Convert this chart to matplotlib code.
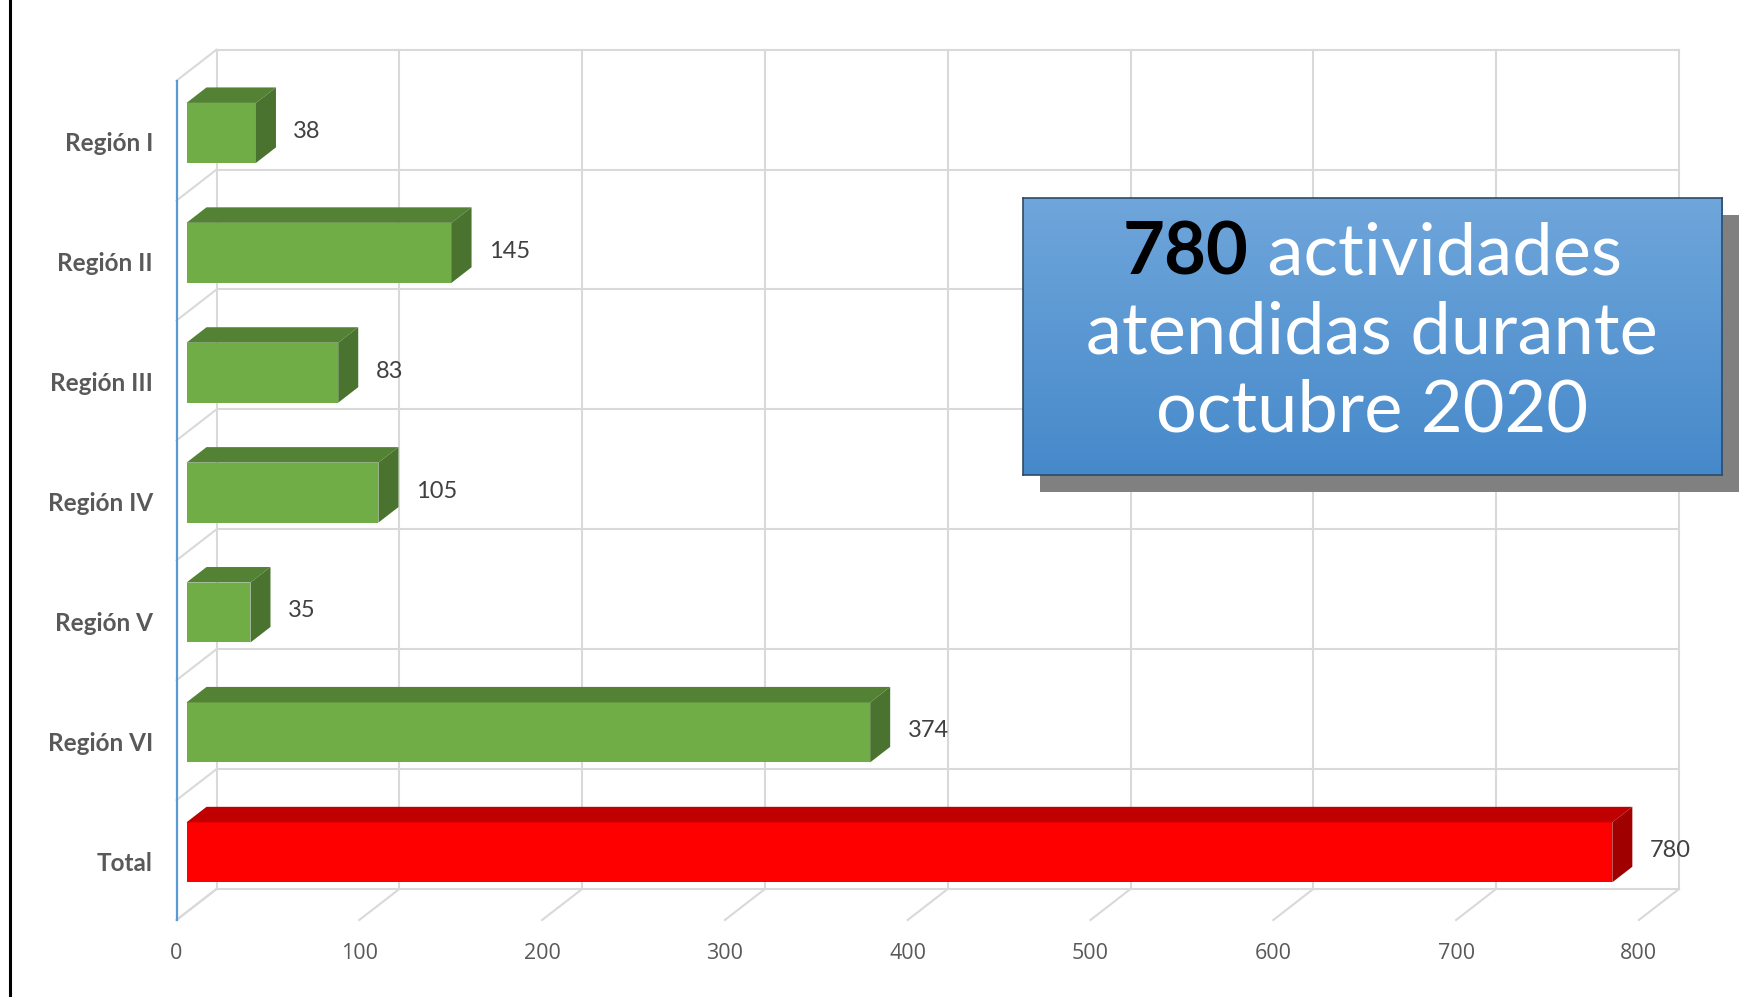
import matplotlib
matplotlib.use("Agg")
import matplotlib.pyplot as plt
from matplotlib.patches import Polygon, Rectangle
import numpy as np

# ---------------- data ----------------
categories = ["Región I", "Región II", "Región III", "Región IV", "Región V", "Región VI", "Total"]
values = [38, 145, 83, 105, 35, 374, 780]
x_ticks = [0, 100, 200, 300, 400, 500, 600, 700, 800]
box_number = "780"
box_line1_rest = " actividades"
box_line2 = "atendidas durante"
box_line3 = "octubre 2020"

# ---------------- styles ----------------
W, H = 1741, 997
X0_PX, PX_PER_UNIT = 176.5, 1.828
Y0_PX, PX_PER_CAT = 920.0, 119.9
DX = 40 / PX_PER_UNIT          # depth offset in value units
DY = 31 / PX_PER_CAT           # depth offset in category units
D0, D1 = 0.25, 0.75            # bar depth range
HALF = 0.25                    # half bar height (category units)

green = ("#70AD47", "#548235", "#4A732F")
red = ("#FF0000", "#C00000", "#A00000")
grid_c = "#D9D9D9"
txt_c = "#595959"

fig = plt.figure(figsize=(W / 100, H / 100), dpi=100)
ax = fig.add_axes([0, 0, 1, 1])
ax.set_xlim(-X0_PX / PX_PER_UNIT, (W - X0_PX) / PX_PER_UNIT)
ax.set_ylim(-(H - Y0_PX) / PX_PER_CAT, Y0_PX / PX_PER_CAT)
ax.axis("off")

n = len(categories)
vmax = x_ticks[-1]

# back wall grid
for v in x_ticks:
    ax.plot([v + DX, v + DX], [DY, n + DY], color=grid_c, lw=1.5, zorder=1)
for k in range(n + 1):
    ax.plot([DX, vmax + DX], [k + DY, k + DY], color=grid_c, lw=1.5, zorder=1)
# floor diagonals
for v in x_ticks:
    ax.plot([v, v + DX], [0, DY], color=grid_c, lw=1.5, zorder=1)
# left wall diagonals
for k in range(n + 1):
    ax.plot([0, DX], [k, k + DY], color=grid_c, lw=1.5, zorder=1)

# bars
for i, (cat, v) in enumerate(zip(categories, values)):
    c = n - i - 0.5
    cols = red if cat == "Total" else green
    front, top, side = cols[0], cols[1], cols[2]
    yb, yt = c - HALF, c + HALF
    def P(x, y, d):
        return (x + d * DX, y + d * DY)
    ax.add_patch(Polygon([P(0, yb, D0), P(v, yb, D0), P(v, yt, D0), P(0, yt, D0)],
                         closed=True, fc=front, ec="none", zorder=3))
    ax.add_patch(Polygon([P(0, yt, D0), P(v, yt, D0), P(v, yt, D1), P(0, yt, D1)],
                         closed=True, fc=top, ec="none", zorder=3))
    ax.add_patch(Polygon([P(v, yb, D0), P(v, yb, D1), P(v, yt, D1), P(v, yt, D0)],
                         closed=True, fc=side, ec="none", zorder=3))
    ax.text(v + D1 * DX + 9.5, c + 0.3 * DY, str(v), ha="left", va="center",
            fontsize=17, color="#404040", family="Lato", zorder=4)
    ax.text(-12.9, c - 0.025, cat, ha="right", va="center", fontsize=17.5,
            fontweight="bold", color=txt_c, family="Lato", zorder=4)

# axis line
ax.plot([0, 0], [0, n], color="#5B9BD5", lw=1.6, zorder=5)

# x tick labels
for v in x_ticks:
    ax.text(v, -33 / PX_PER_CAT, str(v), ha="center", va="center",
            fontsize=15.5, color=txt_c, family="Open Sans", zorder=4)

# left black border line
fig.add_artist(plt.Line2D([10 / W, 10 / W], [0, 1], color="black", lw=2.2,
                          transform=fig.transFigure))

# ---------------- text box ----------------
bx0, bx1, by0, by1 = 1022.6, 1722.0, 197.6, 475.0   # pixel coords from top
sh = 17
def fx(px): return px / W
def fy(py): return 1 - py / H

fig.add_artist(Rectangle((fx(bx0 + sh), fy(by1 + sh)), (bx1 - bx0) / W, (by1 - by0) / H,
                         transform=fig.transFigure, fc="#808080", ec="none", zorder=10))
box_ax = fig.add_axes([fx(bx0), fy(by1), (bx1 - bx0) / W, (by1 - by0) / H], zorder=11)
top_c = np.array([111, 166, 219]) / 255
bot_c = np.array([70, 137, 202]) / 255
t = np.linspace(0, 1, 256)[:, None]
grad = (top_c[None, :] * (1 - t) + bot_c[None, :] * t)[:, None, :]
box_ax.imshow(grad, aspect="auto", extent=(0, 1, 0, 1), origin="upper")
box_ax.set_xlim(0, 1)
box_ax.set_ylim(0, 1)
box_ax.set_xticks([])
box_ax.set_yticks([])
for s in box_ax.spines.values():
    s.set_color("#2F4A66")
    s.set_linewidth(1.2)

fs = 52
cx = 0.5
y1 = 1 - (254 - by0) / (by1 - by0)
y2 = 1 - (333 - by0) / (by1 - by0)
y3 = 1 - (411 - by0) / (by1 - by0)
t_num = box_ax.text(0, y1, box_number, ha="left", va="center", fontsize=fs,
                    fontweight="bold", color="black", family="Lato")
t_rest = box_ax.text(0, y1, box_line1_rest, ha="left", va="center", fontsize=fs,
                     color="white", family="Lato")
box_ax.text(cx, y2, box_line2, ha="center", va="center", fontsize=fs,
            color="white", family="Lato")
box_ax.text(cx, y3, box_line3, ha="center", va="center", fontsize=fs,
            color="white", family="Lato")

r = fig.canvas.get_renderer()
box_w_px = box_ax.get_window_extent(r).width
w_num = t_num.get_window_extent(r).width / box_w_px
w_rest = t_rest.get_window_extent(r).width / box_w_px
start = cx - (w_num + w_rest) / 2
t_num.set_x(start)
t_rest.set_x(start + w_num)

fig.savefig("out.png", dpi=100)
